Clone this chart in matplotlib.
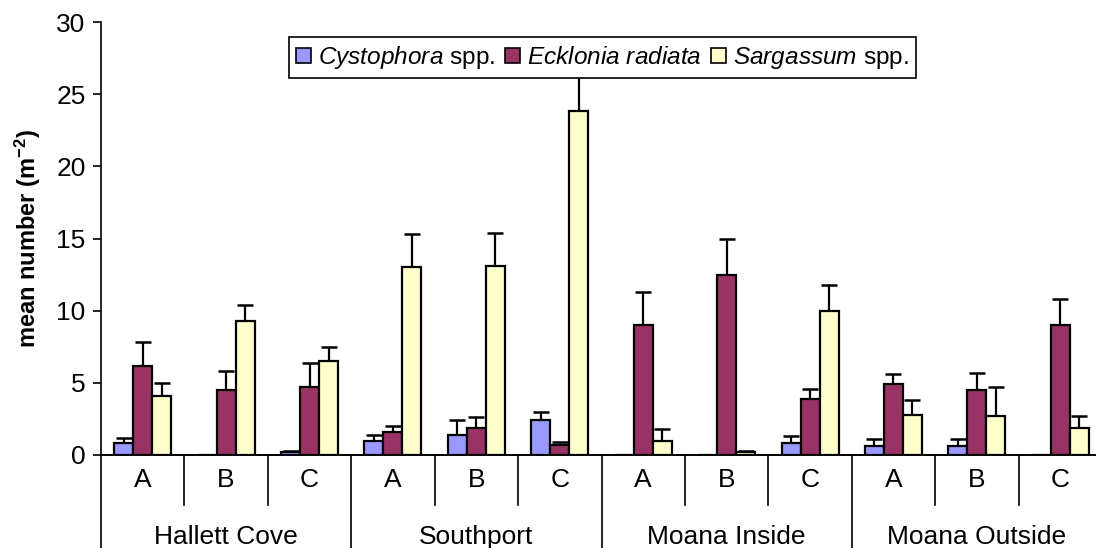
import matplotlib
matplotlib.use("Agg")
import matplotlib.pyplot as plt
import numpy as np

plt.rcParams['font.family'] = ['Liberation Sans', 'DejaVu Sans']
plt.rcParams['mathtext.fontset'] = 'custom'
plt.rcParams['mathtext.rm'] = 'Liberation Sans'
plt.rcParams['mathtext.it'] = 'Liberation Sans:italic'
plt.rcParams['mathtext.bf'] = 'Liberation Sans:bold'

sites = ["Hallett Cove", "Southport", "Moana Inside", "Moana Outside"]
subsites = ["A", "B", "C"]
series_names = [r"$\mathit{Cystophora}$ spp.", r"$\mathit{Ecklonia\ radiata}$", r"$\mathit{Sargassum}$ spp."]
colors = ["#9999FF", "#993366", "#FFFFCC"]

cystophora = [0.8, 0.0, 0.2, 1.0, 1.4, 2.4, 0.0, 0.0, 0.8, 0.6, 0.6, 0.0]
cystophora_se = [0.4, 0.0, 0.1, 0.4, 1.0, 0.6, 0.0, 0.0, 0.5, 0.5, 0.5, 0.0]
ecklonia = [6.2, 4.5, 4.7, 1.6, 1.9, 0.7, 9.0, 12.5, 3.9, 4.9, 4.5, 9.0]
ecklonia_se = [1.6, 1.3, 1.7, 0.4, 0.7, 0.2, 2.3, 2.5, 0.7, 0.7, 1.2, 1.8]
sargassum = [4.1, 9.3, 6.5, 13.0, 13.1, 23.8, 1.0, 0.2, 10.0, 2.8, 2.7, 1.9]
sargassum_se = [0.9, 1.1, 1.0, 2.3, 2.3, 2.8, 0.8, 0.1, 1.8, 1.0, 2.0, 0.8]

values = [cystophora, ecklonia, sargassum]
errors = [cystophora_se, ecklonia_se, sargassum_se]

fig = plt.figure(figsize=(10.96, 5.48), dpi=100)
ax = fig.add_axes([101/1096, 1-455/548, 1001/1096, 433/548])

n = len(cystophora)
x = np.arange(n)
w = 0.228
offsets = [-w, 0, w]
for vals, errs, col, name, off in zip(values, errors, colors, series_names, offsets):
    ax.bar(x + off, vals, width=w, color=col, edgecolor='black', linewidth=1.6,
           label=name, zorder=3)
    errs_arr = np.array(errs)
    mask = errs_arr > 0
    ax.errorbar((x + off)[mask], np.array(vals)[mask],
                yerr=[np.zeros(mask.sum()), errs_arr[mask]],
                fmt='none', ecolor='black', elinewidth=1.6, capsize=6, capthick=1.8, zorder=2)

ax.set_xlim(-0.5, n - 0.5)
ax.set_ylim(0, 30)
ax.set_yticks(np.arange(0, 31, 5))
ax.tick_params(axis='y', labelsize=19, length=6, width=1.2, direction='out', pad=5)
ax.set_xticks([])
for s in ['top', 'right']:
    ax.spines[s].set_visible(False)
ax.spines['left'].set_linewidth(1.2)
ax.spines['bottom'].set_linewidth(1.4)

ax.set_ylabel(r"mean number (m$^{\mathbf{-2}}$)", fontsize=17, fontweight='bold')
ax.yaxis.set_label_coords(-0.058, 0.50)

trans = ax.get_xaxis_transform()
ax.plot([-0.5, -0.5], [0, -0.23], transform=trans, color='black', lw=1.2, clip_on=False)
for i in range(n):
    ax.text(i, -0.058, subsites[i % 3], transform=trans, ha='center', va='center', fontsize=19)
    if i > 0:
        if i % 3 == 0:
            ax.plot([i - 0.5, i - 0.5], [0, -0.23], transform=trans, color='black', lw=1.2, clip_on=False)
        else:
            ax.plot([i - 0.5, i - 0.5], [0, -0.116], transform=trans, color='black', lw=1.2, clip_on=False)
for j, site in enumerate(sites):
    ax.text(3 * j + 1, -0.19, site, transform=trans, ha='center', va='center', fontsize=19)

leg = ax.legend(loc='upper center', bbox_to_anchor=(0.501, 0.966), ncol=3, fontsize=17.6,
                frameon=True, fancybox=False, edgecolor='black', framealpha=1,
                handlelength=0.6, handleheight=0.6, handletextpad=0.3, columnspacing=0.4,
                borderpad=0.3, borderaxespad=0)
leg.get_frame().set_linewidth(1.2)
leg.set_zorder(10)
for p in leg.get_patches():
    p.set_linewidth(1.2)

fig.savefig("out.png", dpi=100)
